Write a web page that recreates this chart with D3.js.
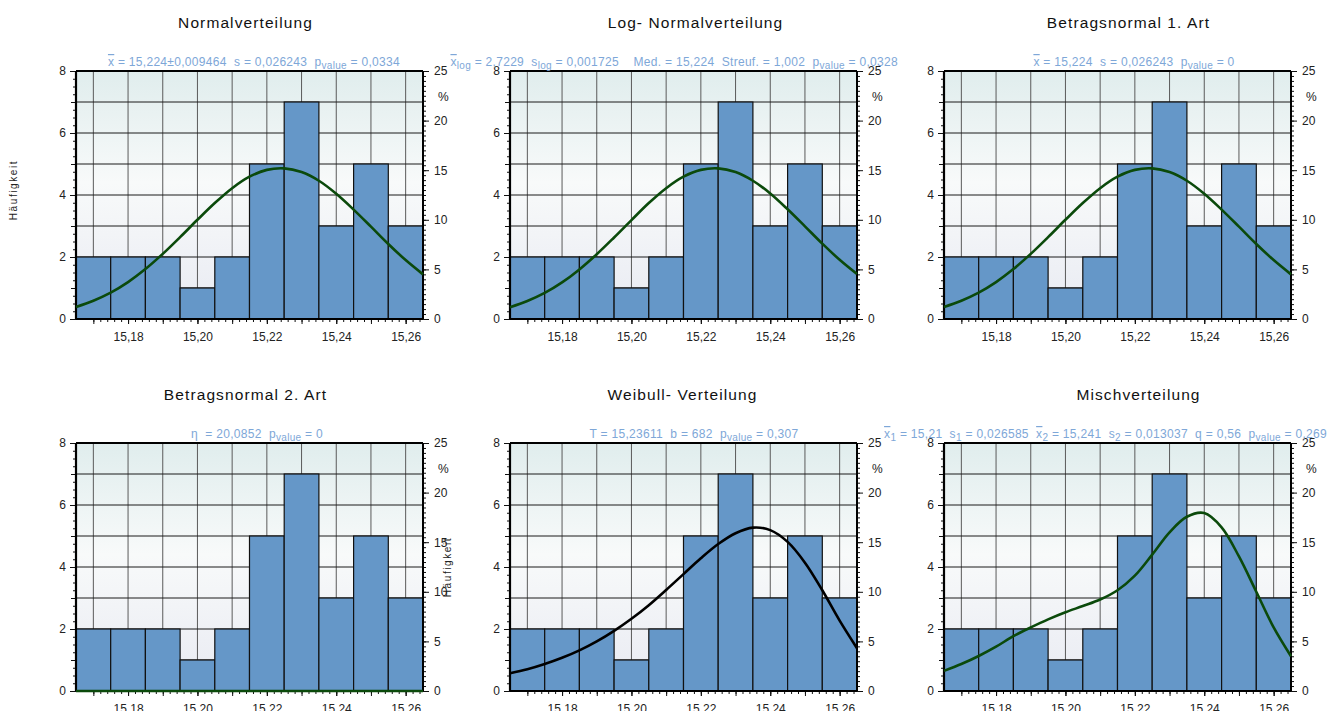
<!DOCTYPE html>
<html>
<head>
<meta charset="utf-8">
<script src="https://cdnjs.cloudflare.com/ajax/libs/d3/7.8.5/d3.min.js"></script>
<style>
  body { margin: 0; background: #fff; }
  svg { display: block; font-family: "Liberation Sans", Arial, sans-serif; }
</style>
</head>
<body>
<div id="chart"></div>
<script>
// Histogram data (class centres, width 0,01)
const binCenters = [15.17, 15.18, 15.19, 15.20, 15.21, 15.22, 15.23, 15.24, 15.25, 15.26];
const counts = [2, 2, 2, 1, 2, 5, 7, 3, 5, 3];
const binW = 0.01;

// Axis tick labels
const xTickLabels = [15.18, 15.20, 15.22, 15.24, 15.26];
const countTicks = [0, 2, 4, 6, 8];
const pctTicks = [0, 5, 10, 15, 20, 25];

// Fitted curves (Häufigkeit at each x)
const curveX = [15.165, 15.170, 15.175, 15.180, 15.185, 15.190, 15.195, 15.200, 15.205, 15.210, 15.215,
                15.220, 15.225, 15.230, 15.235, 15.240, 15.245, 15.250, 15.255, 15.260, 15.265];
const normalFit    = [0.39, 0.59, 0.85, 1.19, 1.61, 2.10, 2.64, 3.20, 3.74, 4.22, 4.59, 4.81, 4.86, 4.74, 4.46, 4.04, 3.53, 2.98, 2.42, 1.90, 1.44];
const lognormalFit = [0.38, 0.58, 0.84, 1.18, 1.60, 2.09, 2.63, 3.19, 3.74, 4.22, 4.59, 4.81, 4.86, 4.74, 4.46, 4.05, 3.54, 2.99, 2.43, 1.91, 1.45];
const betrag1Fit   = [0.39, 0.59, 0.85, 1.19, 1.61, 2.10, 2.64, 3.20, 3.74, 4.22, 4.59, 4.81, 4.86, 4.74, 4.46, 4.04, 3.53, 2.98, 2.42, 1.90, 1.44];
const betrag2Fit   = [0, 0, 0, 0, 0, 0, 0, 0, 0, 0, 0, 0, 0, 0, 0, 0, 0, 0, 0, 0, 0];
const weibullFit   = [0.57, 0.70, 0.87, 1.07, 1.31, 1.60, 1.94, 2.33, 2.77, 3.26, 3.77, 4.28, 4.74, 5.09, 5.27, 5.19, 4.81, 4.14, 3.25, 2.27, 1.38];
const mixFit       = [0.65, 0.87, 1.13, 1.43, 1.77, 2.05, 2.31, 2.54, 2.74, 2.95, 3.25, 3.72, 4.40, 5.12, 5.62, 5.74, 5.28, 4.34, 3.20, 2.05, 1.12];

const titles = ["Normalverteilung", "Log- Normalverteilung", "Betragsnormal 1. Art",
                "Betragsnormal 2. Art", "Weibull- Verteilung", "Mischverteilung"];

// stats lines: [text, kind] with kind "" | "over" | "sub"
const NB = "\u00a0";
const stats = [
  [["x", "over"], [" = 15,224±0,009464" + NB + " s = 0,026243" + NB + " p", ""], ["value", "sub"], [" = 0,0334", ""]],
  [["x", "over"], ["log", "sub"], [" = 2,7229" + NB + " s", ""], ["log", "sub"], [" = 0,001725" + NB + NB + NB + NB + "Med. = 15,224" + NB + " Streuf. = 1,002" + NB + " p", ""], ["value", "sub"], [" = 0,0328", ""]],
  [["x", "over"], [" = 15,224" + NB + " s = 0,026243" + NB + " p", ""], ["value", "sub"], [" = 0", ""]],
  [["η" + NB + " = 20,0852" + NB + " p", ""], ["value", "sub"], [" = 0", ""]],
  [["T = 15,23611" + NB + " b = 682" + NB + " p", ""], ["value", "sub"], [" = 0,307", ""]],
  [["x", "over"], ["1", "sub"], [" = 15,21" + NB + " s", ""], ["1", "sub"], [" = 0,026585" + NB + " ", ""], ["x", "over"], ["2", "sub"], [" = 15,241" + NB + " s", ""], ["2", "sub"], [" = 0,013037" + NB + " q = 0,56" + NB + " p", ""], ["value", "sub"], [" = 0,269", ""]]
];

const fits = [normalFit, lognormalFit, betrag1Fit, betrag2Fit, weibullFit, mixFit];
const curveColors = ["#0b4a0b", "#0b4a0b", "#0b4a0b", "#0b4a0b", "#000000", "#0b4a0b"];

// layout
const W = 1339, H = 711;
const colLeft = [76, 510, 944], rowTop = [71, 443];
const plotW = 347, plotH = 248;
const titleDx = [-4, 12, 11, -4, -1, 21];
const statsPos = [["middle", 254], ["end", 898], ["middle", 1134], ["middle", 257], ["middle", 694], ["end", 1327]];

const locale = d3.formatLocale({decimal: ",", thousands: ".", grouping: [3], currency: ["", ""]});
const fmtX = locale.format(".2f");

const svg = d3.select("#chart").append("svg")
    .attr("width", W).attr("height", H);

const grad = svg.append("defs").append("linearGradient")
    .attr("id", "bg").attr("x1", 0).attr("y1", 0).attr("x2", 0).attr("y2", 1);
grad.append("stop").attr("offset", "0%").attr("stop-color", "#e0eded");
grad.append("stop").attr("offset", "45%").attr("stop-color", "#f8fafa");
grad.append("stop").attr("offset", "100%").attr("stop-color", "#e8eaf2");

const xMin = binCenters[0] - binW / 2, xMax = binCenters[binCenters.length - 1] + binW / 2;
const gridX = binCenters;
const gridY = d3.range(1, 8);

titles.forEach(function(title, i) {
    const left = colLeft[i % 3], top = rowTop[Math.floor(i / 3)];
    const g = svg.append("g").attr("transform", "translate(" + left + "," + top + ")");

    const x = d3.scaleLinear().domain([xMin, xMax]).range([0, plotW]);
    const y = d3.scaleLinear().domain([0, 8]).range([plotH, 0]);
    const yp = d3.scaleLinear().domain([0, 25]).range([plotH, 0]);

    // background
    g.append("rect").attr("width", plotW).attr("height", plotH).attr("fill", "url(#bg)");

    // grid
    g.selectAll(".vg").data(gridX).join("line")
        .attr("x1", d => x(d)).attr("x2", d => x(d))
        .attr("y1", 0).attr("y2", plotH)
        .attr("stroke", "#5a5a5a").attr("stroke-width", 1);
    g.selectAll(".hg").data(gridY).join("line")
        .attr("x1", 0).attr("x2", plotW)
        .attr("y1", d => y(d)).attr("y2", d => y(d))
        .attr("stroke", "#1a1a1a").attr("stroke-width", 1);

    // bars
    g.selectAll(".bar").data(counts).join("rect")
        .attr("x", (d, j) => x(binCenters[j] - binW / 2))
        .attr("y", d => y(d))
        .attr("width", (d, j) => x(binCenters[j] + binW / 2) - x(binCenters[j] - binW / 2))
        .attr("height", d => plotH - y(d))
        .attr("fill", "#6597c8")
        .attr("stroke", "#111").attr("stroke-width", 1.2);

    // frame
    g.append("line").attr("x1", 0).attr("x2", plotW).attr("y1", 0).attr("y2", 0)
        .attr("stroke", "#000").attr("stroke-width", 2);

    // left axis
    const la = g.append("g").attr("class", "ax");
    la.append("g").call(d3.axisLeft(y).tickValues(d3.range(0, 33).map(k => k * 0.25)).tickSize(3).tickFormat(""));
    la.append("g").call(d3.axisLeft(y).tickValues(d3.range(0, 9)).tickSize(5).tickFormat(""));
    la.append("g").call(d3.axisLeft(y).tickValues(countTicks).tickSize(6).tickPadding(4).tickFormat(d3.format("d")));
    la.append("line").attr("x1", 0).attr("x2", 0).attr("y1", 0).attr("y2", plotH)
        .attr("stroke", "#000").attr("stroke-width", 2.2);

    // right axis (percent)
    const ra = g.append("g").attr("transform", "translate(" + plotW + ",0)");
    ra.append("g").call(d3.axisRight(yp).tickValues(d3.range(0, 51).map(k => k * 0.5)).tickSize(3).tickFormat(""));
    ra.append("g").call(d3.axisRight(yp).tickValues(pctTicks).tickSize(6).tickPadding(5).tickFormat(d3.format("d")));
    ra.append("line").attr("x1", 0).attr("x2", 0).attr("y1", 0).attr("y2", plotH)
        .attr("stroke", "#000").attr("stroke-width", 2);
    ra.append("text").attr("x", 15).attr("y", 30)
        .attr("font-size", 12).attr("fill", "#222").text("%");

    // bottom axis
    const ba = g.append("g").attr("transform", "translate(0," + plotH + ")");
    ba.append("g").call(d3.axisBottom(x).tickValues(d3.range(0, 51).map(k => xMin + 0.005 + k * 0.002).filter(v => v <= xMax)).tickSize(3).tickFormat(""));
    ba.append("g").call(d3.axisBottom(x).tickValues(gridX).tickSize(5).tickFormat(""));
    ba.append("g").call(d3.axisBottom(x).tickValues(xTickLabels).tickSize(5).tickPadding(8).tickFormat(fmtX));
    ba.append("line").attr("x1", 0).attr("x2", plotW).attr("y1", 0).attr("y2", 0)
        .attr("stroke", "#000").attr("stroke-width", 2);

    g.selectAll(".domain").remove();
    g.selectAll(".tick line").attr("stroke", "#111");
    g.selectAll(".tick text").attr("font-size", 12).attr("fill", "#222")
        .attr("font-family", "Liberation Sans, Arial, sans-serif");

    // fitted curve (on top, so a zero curve stays visible on the axis)
    const line = d3.line()
        .x((d, j) => x(curveX[j]))
        .y(d => y(d))
        .curve(d3.curveCatmullRom.alpha(0.5));
    g.append("path").datum(fits[i])
        .attr("d", line)
        .attr("fill", "none")
        .attr("stroke", curveColors[i])
        .attr("stroke-width", 2.6);

    // title
    svg.append("text")
        .attr("x", left + plotW / 2 + titleDx[i])
        .attr("y", top - 43)
        .attr("text-anchor", "middle")
        .attr("font-size", 15.5)
        .attr("letter-spacing", 1.1)
        .attr("fill", "#111")
        .text(title);

    // stats line
    const st = svg.append("text")
        .attr("x", statsPos[i][1])
        .attr("y", top - 5)
        .attr("text-anchor", statsPos[i][0])
        .attr("font-size", 12)
        .attr("letter-spacing", 0.3)
        .attr("fill", "#7ea7d8");
    let shifted = false;
    stats[i].forEach(function(seg) {
        const ts = st.append("tspan").text(seg[0]);
        if (seg[1] === "sub") {
            ts.attr("font-size", 10).attr("dy", shifted ? 0 : 3);
            shifted = true;
        } else {
            if (shifted) { ts.attr("dy", -3); shifted = false; }
            if (seg[1] === "over") ts.style("text-decoration", "overline");
        }
    });
});

// y axis titles
svg.append("text")
    .attr("transform", "translate(17,190) rotate(-90)")
    .attr("text-anchor", "middle")
    .attr("font-size", 10).attr("letter-spacing", 1.6).attr("fill", "#222")
    .text("Häufigkeit");
svg.append("text")
    .attr("transform", "translate(451,567) rotate(-90)")
    .attr("text-anchor", "middle")
    .attr("font-size", 10).attr("letter-spacing", 1.6).attr("fill", "#222")
    .text("Häufigkeit");
</script>
</body>
</html>
